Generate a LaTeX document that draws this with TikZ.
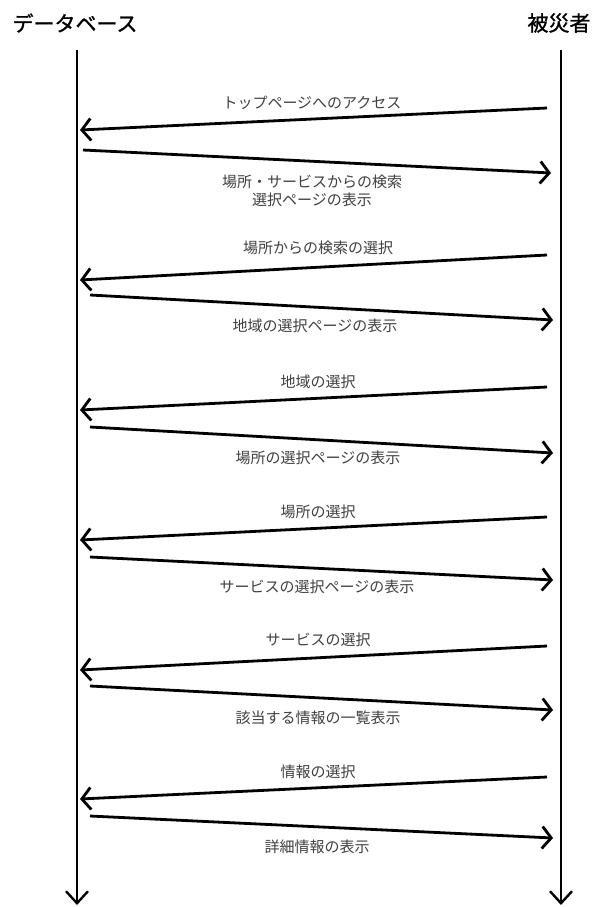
\documentclass[tikz,border=0pt]{standalone}
\usepackage{fontspec}
\newfontfamily\jp{Noto Sans CJK JP}
\newfontfamily\jpb[FakeBold=1.2]{Noto Sans CJK JP}
\usetikzlibrary{arrows.meta}
\tikzset{
  title/.style={font=\jpb\fontsize{21}{24}\selectfont, text=black, inner sep=0pt},
  msglabel/.style={font=\jp\fontsize{15}{18}\selectfont, text=black!75, inner sep=0pt, align=center},
  lifeline/.style={line width=2.4pt, -{Straight Barb[length=12pt,width=22pt,line width=2.4pt]}},
  msg/.style={line width=2.8pt, -{Straight Barb[length=9pt,width=22pt,line width=2.8pt]}},
}
\begin{document}
\begin{tikzpicture}[x=1pt,y=-1pt]
\useasboundingbox[fill=white] (0,0) rectangle (598,907);
\node[title] (db) at (75,23) {データベース};
\node[title] (user) at (559,23) {被災者};
\coordinate (dbtop) at (77,50);
\coordinate (dbbot) at (77,905);
\coordinate (ustop) at (561,50);
\coordinate (usbot) at (561,905);
\draw[lifeline] (dbtop) -- (dbbot);
\draw[lifeline] (ustop) -- (usbot);

% messages: user -> db (left), db -> user (right)
\coordinate (a1s) at (547,108); \coordinate (a1e) at (80,130);
\coordinate (a2s) at (83,150);  \coordinate (a2e) at (551,173);
\coordinate (a3s) at (547,255); \coordinate (a3e) at (80,280);
\coordinate (a4s) at (90,295);  \coordinate (a4e) at (553,320);
\coordinate (a5s) at (547,387); \coordinate (a5e) at (80,410);
\coordinate (a6s) at (90,427);  \coordinate (a6e) at (553,453);
\coordinate (a7s) at (547,517); \coordinate (a7e) at (80,540);
\coordinate (a8s) at (90,557);  \coordinate (a8e) at (553,580);
\coordinate (a9s) at (547,646); \coordinate (a9e) at (80,670);
\coordinate (a10s) at (90,686); \coordinate (a10e) at (553,710);
\coordinate (a11s) at (547,777); \coordinate (a11e) at (80,799);
\coordinate (a12s) at (90,816); \coordinate (a12e) at (553,838);

\foreach \i in {1,...,12} { \draw[msg] (a\i s) -- (a\i e); }

\node[msglabel] (l1) at (312,103) {トップページへのアクセス};
\node[msglabel] (l2) at (312,191) {場所・サービスからの検索\\選択ページの表示};
\node[msglabel] (l3) at (318,248) {場所からの検索の選択};
\node[msglabel] (l4) at (315,326) {地域の選択ページの表示};
\node[msglabel] (l5) at (318,382) {地域の選択};
\node[msglabel] (l6) at (318,458) {場所の選択ページの表示};
\node[msglabel] (l7) at (318,512) {場所の選択};
\node[msglabel] (l8) at (317,587) {サービスの選択ページの表示};
\node[msglabel] (l9) at (318,640) {サービスの選択};
\node[msglabel] (l10) at (318,718) {該当する情報の一覧表示};
\node[msglabel] (l11) at (318,772) {情報の選択};
\node[msglabel] (l12) at (317,847) {詳細情報の表示};
\end{tikzpicture}
\end{document}
